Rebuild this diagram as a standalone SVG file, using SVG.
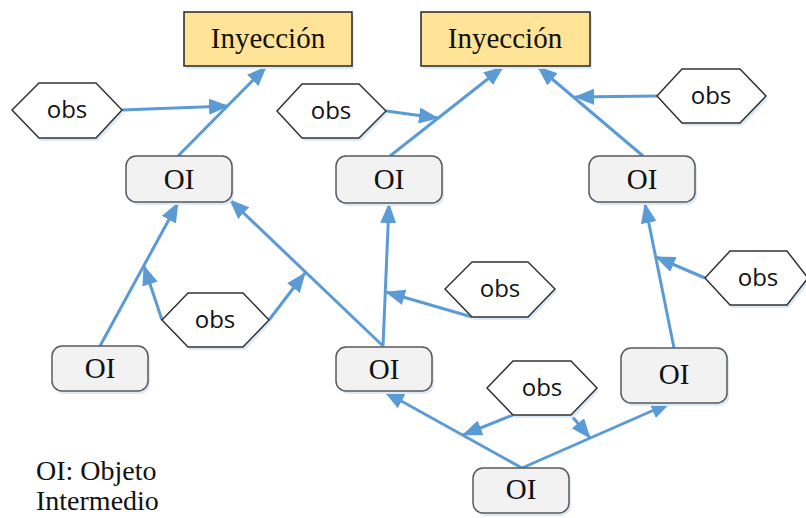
<svg xmlns="http://www.w3.org/2000/svg" width="806" height="518" viewBox="0 0 806 518">
<style>
.inj{fill:#FFE396;stroke:#262626;stroke-width:1.5}
.oi{fill:#F2F2F2;stroke:#595959;stroke-width:1.5}
.hex{fill:#FFFFFF;stroke:#333333;stroke-width:1.5}
.sh{fill:#DCE9F6;stroke:none}
.ser{font-family:"Liberation Serif","Times New Roman",serif;font-size:29px;fill:#111;text-anchor:middle}
.obs{font-family:"Open Sans","Liberation Sans",sans-serif;font-size:24px;fill:#111;text-anchor:middle}
.leg{font-family:"Liberation Serif","Times New Roman",serif;font-size:28px;fill:#111}
.c{stroke:#5B9BD5;stroke-width:3;fill:none;marker-end:url(#ah)}
</style>
<defs>
<marker id="ah" markerUnits="userSpaceOnUse" markerWidth="20" markerHeight="16" refX="19" refY="8" orient="auto">
<path d="M0,0 L20,8 L0,16 z" fill="#5B9BD5"/>
</marker>
</defs>
<rect width="806" height="518" fill="#FFFFFF"/>
<g id="connectors">
<line class="c" x1="178" y1="156" x2="266" y2="67"/>
<line class="c" x1="122" y1="110" x2="228" y2="106"/>
<line class="c" x1="390" y1="156" x2="503" y2="67"/>
<line class="c" x1="386" y1="111" x2="438" y2="118"/>
<line class="c" x1="643" y1="156" x2="538" y2="67"/>
<line class="c" x1="657" y1="96" x2="575" y2="97"/>
<line class="c" x1="100" y1="346" x2="178" y2="203"/>
<line class="c" x1="162" y1="320" x2="144" y2="266"/>
<line class="c" x1="383" y1="346" x2="230" y2="200"/>
<line class="c" x1="269" y1="320" x2="305" y2="273"/>
<line class="c" x1="383" y1="346" x2="389" y2="204"/>
<line class="c" x1="472" y1="317" x2="386" y2="292"/>
<line class="c" x1="522" y1="468" x2="385" y2="392"/>
<line class="c" x1="522" y1="468" x2="670" y2="403"/>
<line class="c" x1="513" y1="415" x2="463" y2="435"/>
<line class="c" x1="571" y1="415" x2="590" y2="438"/>
<line class="c" x1="674" y1="348" x2="645" y2="204"/>
<line class="c" x1="705" y1="278" x2="656" y2="257"/>
</g>
<g id="inj1">
<rect class="sh" x="186" y="15" width="168" height="54"/>
<rect class="inj" x="184" y="12" width="168" height="54"/>
<text class="ser" x="268" y="48">Inyección</text>
</g>
<g id="inj2">
<rect class="sh" x="423" y="15" width="169" height="54"/>
<rect class="inj" x="421" y="12" width="169" height="54"/>
<text class="ser" x="505" y="48">Inyección</text>
</g>
<g id="oi1">
<rect class="sh" x="128" y="159" width="106" height="46" rx="10"/>
<rect class="oi" x="126" y="156" width="106" height="46" rx="10"/>
<text class="ser" x="179" y="189">OI</text>
</g>
<g id="oi2">
<rect class="sh" x="338" y="159" width="106" height="47" rx="10"/>
<rect class="oi" x="336" y="156" width="106" height="47" rx="10"/>
<text class="ser" x="389" y="189">OI</text>
</g>
<g id="oi3">
<rect class="sh" x="591" y="159" width="106" height="46" rx="10"/>
<rect class="oi" x="589" y="156" width="106" height="46" rx="10"/>
<text class="ser" x="642" y="189">OI</text>
</g>
<g id="oi4">
<rect class="sh" x="54" y="349" width="96" height="45" rx="10"/>
<rect class="oi" x="52" y="346" width="96" height="45" rx="10"/>
<text class="ser" x="100" y="378">OI</text>
</g>
<g id="oi5">
<rect class="sh" x="338" y="350" width="96" height="44" rx="10"/>
<rect class="oi" x="336" y="347" width="96" height="44" rx="10"/>
<text class="ser" x="384" y="379">OI</text>
</g>
<g id="oi6">
<rect class="sh" x="623" y="351" width="106" height="55" rx="10"/>
<rect class="oi" x="621" y="348" width="106" height="55" rx="10"/>
<text class="ser" x="674" y="384">OI</text>
</g>
<g id="oi7">
<rect class="sh" x="475" y="471" width="96" height="45" rx="10"/>
<rect class="oi" x="473" y="468" width="96" height="45" rx="10"/>
<text class="ser" x="521" y="499">OI</text>
</g>
<g id="obs1">
<polygon class="sh" points="14,113 41,86 98,86 124,113 98,141 41,141"/>
<polygon class="hex" points="12,110 39,83 96,83 122,110 96,138 39,138"/>
<text class="obs" x="67" y="118">obs</text>
</g>
<g id="obs2">
<polygon class="sh" points="279,114 304,87 361,87 388,114 361,141 304,141"/>
<polygon class="hex" points="277,111 302,84 359,84 386,111 359,138 302,138"/>
<text class="obs" x="331" y="119">obs</text>
</g>
<g id="obs3">
<polygon class="sh" points="659,99 684,72 742,72 768,99 742,126 684,126"/>
<polygon class="hex" points="657,96 682,69 740,69 766,96 740,123 682,123"/>
<text class="obs" x="711" y="104">obs</text>
</g>
<g id="obs4">
<polygon class="sh" points="164,323 190,296 245,296 271,323 245,350 190,350"/>
<polygon class="hex" points="162,320 188,293 243,293 269,320 243,347 188,347"/>
<text class="obs" x="215" y="328">obs</text>
</g>
<g id="obs5">
<polygon class="sh" points="447,292 474,265 530,265 557,292 530,320 474,320"/>
<polygon class="hex" points="445,289 472,262 528,262 555,289 528,317 472,317"/>
<text class="obs" x="500" y="297">obs</text>
</g>
<g id="obs6">
<polygon class="sh" points="707,281 732,254 789,254 810,281 789,308 732,308"/>
<polygon class="hex" points="705,278 730,251 787,251 808,278 787,305 730,305"/>
<text class="obs" x="758" y="286">obs</text>
</g>
<g id="obs7">
<polygon class="sh" points="489,391 515,364 573,364 599,391 573,418 515,418"/>
<polygon class="hex" points="487,388 513,361 571,361 597,388 571,415 513,415"/>
<text class="obs" x="542" y="396">obs</text>
</g>
<g id="legend">
<text class="leg" x="36" y="480">OI: Objeto</text>
<text class="leg" x="36" y="510">Intermedio</text>
</g>
</svg>
